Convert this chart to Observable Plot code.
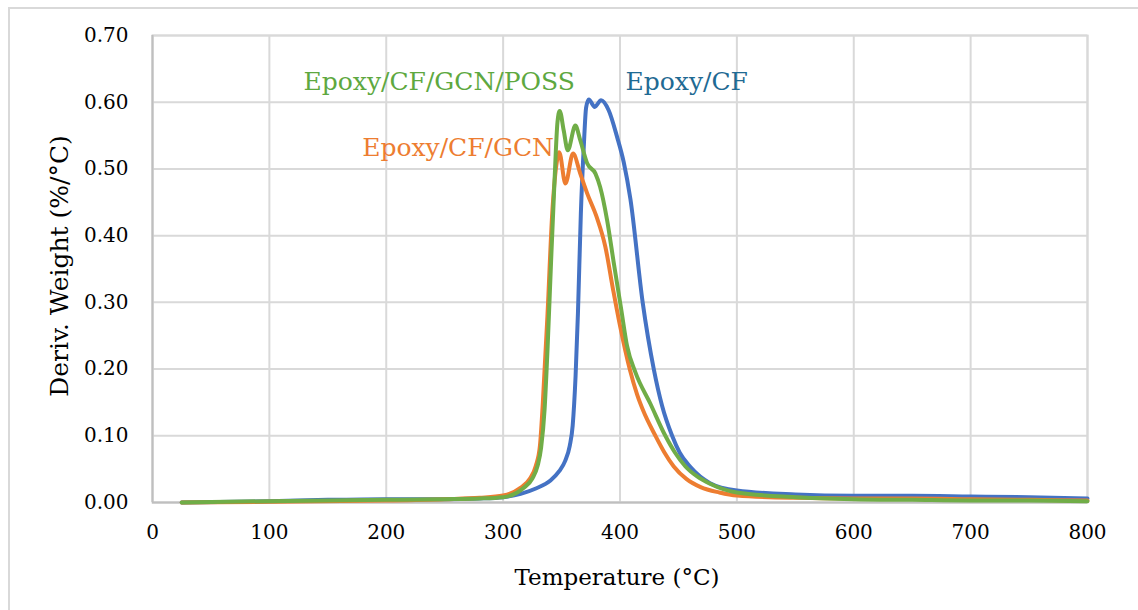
<!DOCTYPE html>
<html>
<head>
<meta charset="utf-8">
<script src="https://cdn.jsdelivr.net/npm/d3@7"></script>
<script src="https://cdn.jsdelivr.net/npm/@observablehq/plot@0.6"></script>
<style>
  html, body { margin: 0; padding: 0; background: #fff; }
  #chart { position: relative; width: 1138px; height: 610px; }
</style>
</head>
<body>
<div id="chart"></div>
<script>
// Temperature (°C) and derivative weight (%/°C)
const epoxyCF = [
  [25,0.000],[100,0.002],[150,0.004],[200,0.005],[250,0.005],[280,0.006],[300,0.008],
  [315,0.013],[328,0.021],[340.5,0.033],[348,0.047],[353,0.062],[357,0.085],
  [359.5,0.115],[362,0.190],[364,0.283],[366.5,0.433],[369,0.533],[371,0.592],
  [373.3,0.604],[378.4,0.593],[383.8,0.603],[390.3,0.588],[397.5,0.548],[403.2,0.510],
  [408.9,0.455],[419.4,0.300],[428.9,0.200],[436,0.145],[444.6,0.100],[451,0.075],
  [460.3,0.053],[477,0.029],[500,0.018],[550,0.012],[600,0.010],[650,0.010],
  [700,0.009],[750,0.008],[800,0.006]
];
const epoxyCFGCN = [
  [25,0.000],[100,0.001],[200,0.003],[250,0.005],[280,0.007],[300,0.0105],[314.8,0.022],
  [323,0.036],[328,0.055],[331.5,0.085],[334,0.150],[338,0.283],[342,0.433],[345.5,0.505],
  [348,0.525],[353.3,0.478],[359.8,0.523],[366,0.493],[372,0.463],[380,0.428],
  [387.5,0.383],[394,0.320],[400,0.265],[408.3,0.200],[414.6,0.162],[420,0.137],
  [430.3,0.100],[438,0.075],[446,0.054],[457,0.035],[469,0.023],[485,0.015],
  [500,0.0105],[550,0.007],[600,0.006],[650,0.006],[700,0.005],[750,0.004],[800,0.003]
];
const epoxyCFGCNPOSS = [
  [25,0.000],[100,0.002],[200,0.004],[250,0.005],[280,0.006],[300,0.008],[317.7,0.022],
  [325,0.036],[329.5,0.055],[332.5,0.082],[335.5,0.140],[338,0.230],[341,0.360],[344,0.483],
  [346.5,0.570],[348.4,0.587],[351.8,0.558],[355.3,0.528],[361.8,0.565],[366,0.543],
  [372,0.508],[379,0.493],[383,0.473],[389,0.423],[394.6,0.360],[401,0.290],
  [406,0.235],[413.2,0.195],[426,0.148],[438.8,0.100],[447,0.075],
  [456,0.054],[466,0.039],[477,0.028],[500,0.015],[550,0.008],[600,0.005],[650,0.004],
  [700,0.003],[750,0.003],[800,0.002]
];
const seriesNames = ["Epoxy/CF", "Epoxy/CF/GCN", "Epoxy/CF/GCN/POSS"];
const seriesColors = ["#4472C4", "#ED7D31", "#70AD47"];
const labelColors = ["#1F6A93", "#ED7D31", "#5EA83F"];
const labelX = [404.7, 179.4, 129.2];
const labelY = [0.630, 0.531, 0.630];
const xTicks = [0, 100, 200, 300, 400, 500, 600, 700, 800];
const yTicks = [0, 0.1, 0.2, 0.3, 0.4, 0.5, 0.6, 0.7];

const seriesData = [epoxyCF, epoxyCFGCN, epoxyCFGCNPOSS];
const rows = seriesData.flatMap((arr, i) => arr.map(([t, w]) => ({series: seriesNames[i], t, w})));
const labels = seriesNames.map((s, i) => ({series: s, x: labelX[i], y: labelY[i], color: labelColors[i]}));

const font = "'DejaVu Serif', 'Liberation Serif', serif";

const chart = Plot.plot({
  width: 1138,
  height: 610,
  marginLeft: 152,
  marginRight: 51,
  marginTop: 35,
  marginBottom: 108,
  style: {fontFamily: font, fontSize: "20px", color: "#000", background: "#fff"},
  x: {domain: [0, 800], ticks: xTicks, label: null},
  y: {domain: [0, 0.7], ticks: yTicks, label: null},
  color: {domain: seriesNames, range: seriesColors},
  marks: [
    Plot.gridX(xTicks, {stroke: "#d9d9d9", strokeOpacity: 1, strokeWidth: 2}),
    Plot.gridY(yTicks, {stroke: "#d9d9d9", strokeOpacity: 1, strokeWidth: 2}),
    Plot.frame({stroke: "#d9d9d9", strokeWidth: 2}),
    Plot.ruleY([0], {stroke: "#bfbfbf", strokeWidth: 2}),
    Plot.ruleX([0], {stroke: "#bfbfbf", strokeWidth: 2}),
    Plot.axisX({ticks: xTicks, tickSize: 0, tickPadding: 22, fontSize: 20, label: null}),
    Plot.axisY({ticks: yTicks, tickSize: 0, tickPadding: 24, fontSize: 20, tickFormat: d3.format(".2f"), label: null}),
    Plot.line(rows, {x: "t", y: "w", z: "series", stroke: "series", strokeWidth: 4, curve: "monotone-x"}),
    Plot.text(labels, {x: "x", y: "y", text: "series", fill: "color", textAnchor: "start", fontSize: 25, fontFamily: font}),
    Plot.text(["Temperature (°C)"], {frameAnchor: "bottom", dy: 82, dx: -3, fontSize: 23, fill: "#000"}),
    Plot.text(["Deriv. Weight (%/°C)"], {frameAnchor: "left", textAnchor: "middle", dx: -93, dy: -3, rotate: -90, fontSize: 25, fill: "#000"})
  ]
});

// outer chart border
d3.select(chart).insert("rect", ":first-child")
  .attr("x", 9).attr("y", 8).attr("width", 1140).attr("height", 620)
  .attr("fill", "none").attr("stroke", "#d9d9d9").attr("stroke-width", 2);

document.getElementById("chart").appendChild(chart);
</script>
</body>
</html>
